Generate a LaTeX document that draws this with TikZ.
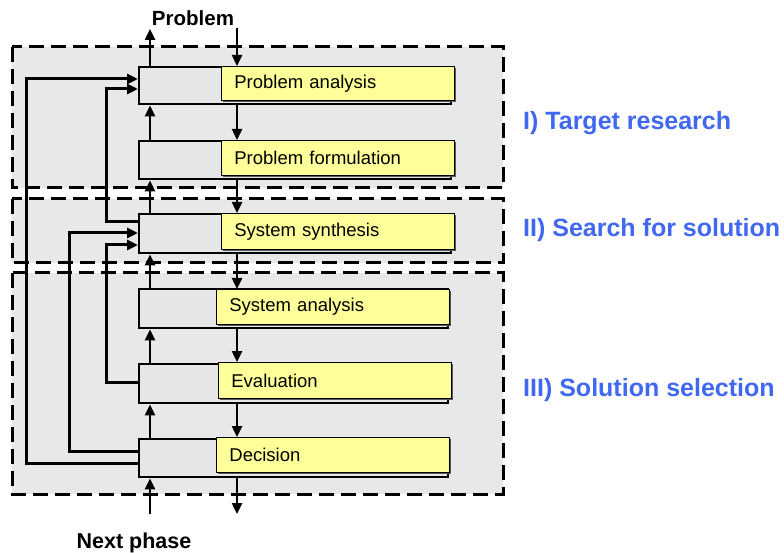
\documentclass[tikz,border=0pt]{standalone}
\usepackage{fontspec}
\setmainfont{Liberation Sans}
\usetikzlibrary{arrows.meta,calc,shadows}
\definecolor{bgray}{RGB}{232,232,232}
\definecolor{boxgray}{RGB}{230,230,230}
\definecolor{pyellow}{RGB}{255,255,153}
\definecolor{lblue}{RGB}{64,104,240}
\definecolor{shgray}{RGB}{90,90,90}
\tikzset{
  region/.style={draw=black, fill=bgray, line width=3pt, dash pattern=on 15pt off 7pt},
  graybox/.style={draw=black, fill=boxgray, line width=2.4pt, inner sep=0pt, anchor=north west, minimum width=312pt},
  yelbox/.style={draw=black, fill=pyellow, line width=0.8pt, inner ysep=0pt, inner xsep=13pt,
    text width=207pt, align=left, anchor=north west, font=\fontsize{18.5}{21}\selectfont,
    drop shadow={shadow xshift=1.6pt, shadow yshift=-1.6pt, fill=shgray, opacity=1}},
  arr/.style={line width=2.4pt, -{Triangle[length=11pt,width=10pt]}},
  fbk/.style={line width=3pt, -{Triangle[length=11pt,width=10pt]}},
  phase/.style={font=\bfseries\fontsize{25}{30}\selectfont, text=lblue, anchor=base west, inner sep=0pt},
  io/.style={font=\bfseries\fontsize{20.5}{24}\selectfont, inner sep=0pt},
}
\begin{document}
\begin{tikzpicture}[x=1pt,y=-1pt]
\useasboundingbox (0,0) rectangle (784,553);
\fill[white] (0,0) rectangle (784,553);
% regions
\draw[region] (12,47) rectangle (503,188);
\draw[region] (12,199) rectangle (503,263);
\draw[region] (12,273) rectangle (503,494);
% boxes
\node[graybox, minimum height=37pt] (g1) at (138,66) {};
\node[yelbox, minimum height=34pt] (y1) at (221,66) {Problem analysis};
\node[graybox, minimum height=38pt] (g2) at (138,140) {};
\node[yelbox, minimum height=35pt] (y2) at (221,140) {Problem formulation};
\node[graybox, minimum height=39pt] (g3) at (138,213) {};
\node[yelbox, minimum height=36pt] (y3) at (221,213) {System synthesis};
\node[graybox, minimum height=39pt, minimum width=309pt] (g4) at (138,288) {};
\node[yelbox, minimum height=35pt] (y4) at (216,289) {System analysis};
\node[graybox, minimum height=39pt, minimum width=309pt] (g5) at (138,363) {};
\node[yelbox, minimum height=36pt] (y5) at (218,362) {Evaluation};
\node[graybox, minimum height=38pt, minimum width=309pt] (g6) at (138,438) {};
\node[yelbox, minimum height=35pt] (y6) at (216,437) {Decision};
% labels
\node[io] (prob) at (193,18.5) {Problem};
\node[io, anchor=base, font=\bfseries\fontsize{21.5}{25}\selectfont] (next) at (134,548) {Next phase};
\node[phase] (l1) at (523,130) {I) Target research};
\node[phase] (l2) at (523,236.7) {II) Search for solution};
\node[phase] (l3) at (523,396.7) {III) Solution selection};
% in/out coordinates
\coordinate (pin) at (237,28);
\coordinate (pout) at (150,29);
\coordinate (nin) at (150,514);
\coordinate (nout) at (237,514);
% vertical flow
\draw[arr] (g1.north -| pout) -- (pout);
\draw[arr] (pin) -- (pin |- y1.north);
\draw[arr] (g2.north -| pout) -- (g1.south -| pout);
\draw[arr] (g1.south -| pin) -- (y2.north -| pin);
\draw[arr] (g3.north -| pout) -- (g2.south -| pout);
\draw[arr] (g2.south -| pin) -- (y3.north -| pin);
\draw[arr] (g4.north -| pout) -- (g3.south -| pout);
\draw[arr] (g3.south -| pin) -- (y4.north -| pin);
\draw[arr] (g5.north -| pout) -- (g4.south -| pout);
\draw[arr] (g4.south -| pin) -- (y5.north -| pin);
\draw[arr] (g6.north -| pout) -- (g5.south -| pout);
\draw[arr] (g5.south -| pin) -- (y6.north -| pin);
\draw[arr] (nin) -- (g6.south -| nin);
\draw[arr] (g6.south -| nout) -- (nout);
% feedback
\draw[fbk] (g6.west |- 0,463) -- (26,463) -- (26,79) -- (g1.west |- 0,79);
\draw[fbk] (g6.west |- 0,451) -- (69,451) -- (69,233) -- (g3.west |- 0,233);
\draw[fbk] (g5.west |- 0,382) -- (106,382) -- (106,245) -- (g3.west |- 0,245);
\draw[fbk] (g3.west |- 0,222) -- (106,222) -- (106,89) -- (g1.west |- 0,89);
\end{tikzpicture}
\end{document}
